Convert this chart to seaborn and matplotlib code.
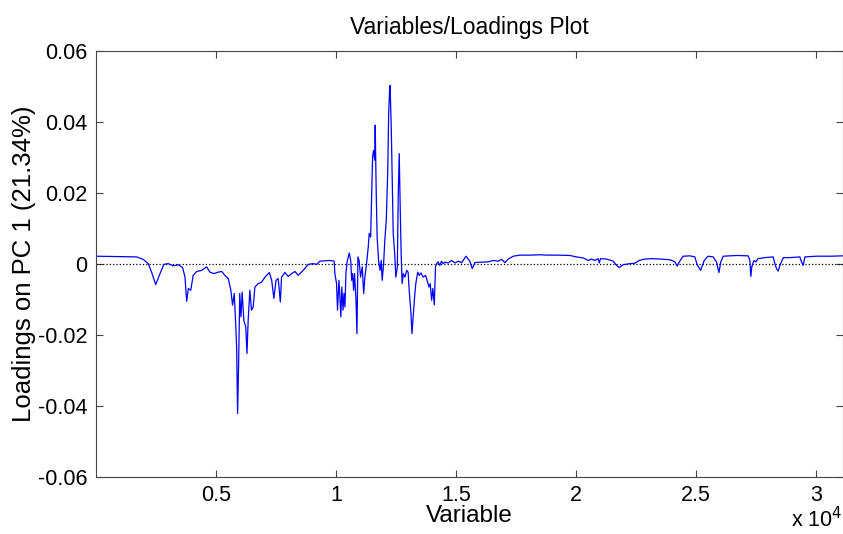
import matplotlib
matplotlib.use("Agg")
import matplotlib.pyplot as plt
import seaborn as sns
import pandas as pd

# variable index and PC1 loading
variable = [
    1, 1710, 1980, 2190, 2330, 2500, 2680, 2840, 3020, 3230, 3440, 3620, 3720, 3790, 3860,
    3960, 4060, 4210, 4410, 4620, 4760, 4930, 5100, 5250, 5380, 5520, 5630, 5700, 5770,
    5830, 5870, 5910, 5950, 6000, 6050, 6100, 6170, 6250, 6300, 6350, 6420, 6490, 6560,
    6630, 6770, 6910, 7050, 7230, 7330, 7420, 7510, 7600, 7690, 7740, 7880, 8020, 8160,
    8300, 8430, 8640, 8850, 9060, 9200, 9340, 9750, 9930,
    9960, 10030, 10070, 10130, 10170, 10210, 10250, 10300, 10340, 10380, 10420, 10470,
    10560, 10620, 10660, 10700, 10740, 10780, 10840, 10880, 10920, 10970, 11030, 11100,
    11160, 11210, 11280, 11350, 11390, 11450, 11490, 11530, 11570, 11620, 11640, 11680,
    11720, 11780, 11840, 11890, 11930, 11990, 12040, 12100, 12160, 12200, 12240, 12260,
    12310, 12350, 12390, 12450, 12500, 12560, 12600, 12640, 12680, 12720, 12760, 12810,
    12880, 12950, 13010, 13060, 13130, 13170, 13220, 13280, 13330, 13410, 13470, 13540,
    13640, 13740, 13800, 13880, 13930, 13990, 14040, 14100, 14150, 14200, 14260, 14330,
    14400, 14470, 14540, 14680, 14820, 14960, 15100, 15240, 15420, 15580, 15680, 15790,
    16000, 16340, 16550, 16760, 16900, 17040, 17180, 17390, 17660, 18080, 18500, 18780,
    19190, 19750, 20020, 20300, 20510, 20650, 20790, 20920, 20970, 21020, 21270, 21550,
    21690, 21800, 21960, 22240, 22450, 22630, 22870, 23210, 23490, 23910, 24120, 24210,
    24320, 24460, 24740, 24950, 25040, 25120, 25190, 25250, 25340, 25500, 25710, 25850,
    25950, 26030, 26130, 26690, 27170, 27240, 27280, 27320, 27410, 27490, 27580, 27860,
    28210, 28280, 28350, 28420, 28490, 28630, 28900, 29320, 29390, 29460, 29530, 30020,
    30640, 31100,
]
loading = [
    0.0022, 0.0020, 0.0013, 0.0001, -0.0023, -0.0058, -0.0027, -0.0001, 0.0001, -0.0005,
    -0.0002, -0.0010, -0.0037, -0.0105, -0.0069, -0.0074, -0.0032, -0.0021, -0.0018,
    -0.0008, -0.0023, -0.0027, -0.0023, -0.0021, -0.0032, -0.0041, -0.0074, -0.0116,
    -0.0083, -0.0168, -0.0234, -0.0421, -0.0290, -0.0083, -0.0149, -0.0079, -0.0159,
    -0.0177, -0.0252, -0.0159, -0.0074, -0.0130, -0.0121, -0.0065, -0.0055, -0.0051,
    -0.0037, -0.0024, -0.0046, -0.0097, -0.0046, -0.0041, -0.0107, -0.0037, -0.0024,
    -0.0035, -0.0027, -0.0021, -0.0032, -0.0018, -0.0001, 0.0001, -0.0001, 0.0008,
    0.0010, 0.0008,
    -0.0027, -0.0055, -0.0130, -0.0046, -0.0093, -0.0149, -0.0065, -0.0130, -0.0083,
    -0.0121, -0.0027, 0.0006, 0.0031, 0.0010, -0.0046, -0.0027, -0.0074, -0.0027,
    -0.0102, -0.0196, 0.0020, 0.0010, -0.0037, -0.0008, -0.0083, -0.0037, 0.0001,
    0.0048, 0.0086, 0.0076, 0.0189, 0.0301, 0.0320, 0.0292, 0.0391, 0.0208, 0.0076,
    0.0010, -0.0018, 0.0010, -0.0046, 0.0001, 0.0067, 0.0123, 0.0255, 0.0424, 0.0489,
    0.0503, 0.0377, 0.0236, 0.0086, 0.0029, -0.0037, -0.0008, 0.0198, 0.0311, 0.0161,
    0.0029, -0.0055, -0.0027, -0.0037, -0.0018, -0.0023, -0.0079, -0.0140, -0.0196,
    -0.0149, -0.0093, -0.0055, -0.0023, -0.0032, -0.0025, -0.0037, -0.0032, -0.0046,
    -0.0065, -0.0055, -0.0102, -0.0069, -0.0115, -0.0008, 0.0001, 0.0006, -0.0004,
    0.0008, 0.0001, 0.0005, 0.0003, 0.0010, 0.0003, 0.0008, 0.0004, 0.0022, 0.0008,
    -0.0013, 0.0004, 0.0005, 0.0006, 0.0010, 0.0008, 0.0013, 0.0004, 0.0014, 0.0022,
    0.0025, 0.0025, 0.0026, 0.0025, 0.0025, 0.0024, 0.0020, 0.0017, 0.0010, 0.0014,
    0.0010, 0.0015, 0.0003, 0.0015, 0.0014, 0.0008, -0.0004, -0.0010, -0.0002, 0.0001,
    0.0002, 0.0010, 0.0014, 0.0015, 0.0014, 0.0012, 0.0006, -0.0006, 0.0008, 0.0022,
    0.0023, 0.0020, -0.0001, -0.0010, -0.0018, -0.0006, 0.0010, 0.0022, 0.0020, 0.0006,
    -0.0024, 0.0006, 0.0022, 0.0024, 0.0023, 0.0010, -0.0035, -0.0008, 0.0010, 0.0006,
    0.0015, 0.0018, 0.0020, 0.0001, -0.0013, -0.0020, -0.0004, 0.0018, 0.0018, 0.0020,
    0.0006, -0.0004, 0.0020, 0.0022, 0.0022, 0.0023,
]

x_ticks = [5000, 10000, 15000, 20000, 25000, 30000]
x_tick_labels = ["0.5", "1", "1.5", "2", "2.5", "3"]
y_ticks = [-0.06, -0.04, -0.02, 0, 0.02, 0.04, 0.06]
y_tick_labels = ["-0.06", "-0.04", "-0.02", "0", "0.02", "0.04", "0.06"]

df = pd.DataFrame({"variable": variable, "loading": loading})

sns.set_style("ticks", {"xtick.direction": "in", "ytick.direction": "in"})
plt.rcParams["font.family"] = ["Liberation Sans", "DejaVu Sans"]
plt.rcParams["text.color"] = "black"
plt.rcParams["axes.labelcolor"] = "black"

fig = plt.figure(figsize=(8.43, 5.34), dpi=100)
ax = fig.add_axes([0.1135, 0.1067, 0.886, 0.7978])

ax.axhline(0, color="black", linestyle=":", linewidth=0.9)
sns.lineplot(data=df, x="variable", y="loading", ax=ax, color="#0000ff",
             linewidth=0.9, estimator=None, sort=False)

ax.set_xlim(1, 31100)
ax.set_ylim(-0.06, 0.06)
ax.set_xticks(x_ticks)
ax.set_xticklabels(x_tick_labels)
ax.set_yticks(y_ticks)
ax.set_yticklabels(y_tick_labels)
ax.tick_params(axis="both", which="both", direction="in", length=5, width=0.8,
               top=True, right=True, labelsize=15.5, colors="#444444",
               labelcolor="black", pad=6)
for sp in ax.spines.values():
    sp.set_visible(True)
    sp.set_color("#444444")
    sp.set_linewidth(0.8)

ax.set_title("Variables/Loadings Plot", fontsize=16.5, pad=12, color="black")
ax.set_xlabel("Variable", fontsize=17.5, labelpad=-1)
ax.set_ylabel("Loadings on PC 1 (21.34%)", fontsize=18.5, labelpad=1)
fig.text(0.938, 0.004, r"x 10$^{4}$", fontsize=15.5, ha="left", va="bottom")

fig.savefig("out.png", dpi=100)
